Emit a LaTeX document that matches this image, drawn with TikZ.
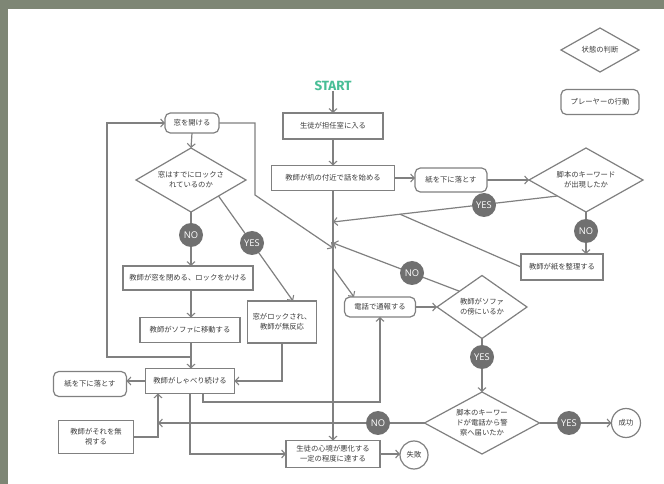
\documentclass[tikz,border=0pt]{standalone}
\usepackage{fontspec}
\setmainfont{Noto Sans CJK JP}
\newfontfamily\latinfont{Open Sans}
\newfontfamily\startfont{Fira Sans}
\usetikzlibrary{shapes.geometric,arrows.meta,calc}
\pgfdeclarelayer{bg}
\pgfsetlayers{bg,main}
\definecolor{bordercol}{RGB}{126,134,117}
\definecolor{linecol}{RGB}{128,128,128}
\definecolor{txtcol}{RGB}{60,60,60}
\definecolor{circcol}{RGB}{112,112,112}
\definecolor{startcol}{RGB}{72,190,150}
\begin{document}
\begin{tikzpicture}[x=0.75pt,y=-0.75pt,
  every node/.style={inner sep=0pt, outer sep=0pt, text=txtcol, align=center,
    font=\fontsize{5.5pt}{7.5pt}\selectfont},
  conn/.style={draw=linecol, line width=0.9pt},
  arr/.style={conn, -{Straight Barb[length=2.8pt,width=6pt,line width=0.8pt]}},
  rectbox/.style={draw=linecol, line width=0.9pt, fill=white, rectangle},
  roundbox/.style={draw=linecol, line width=0.9pt, fill=white, rectangle, rounded corners=4pt},
  decide/.style={draw=linecol, line width=0.9pt, fill=white, diamond},
  answer/.style={circle, fill=circcol, minimum size=18pt, text=white,
    font=\latinfont\fontsize{7pt}{8pt}\selectfont},
  terminal/.style={circle, draw=linecol, line width=0.9pt, fill=white}
]
\begin{pgfonlayer}{bg}
  \fill[bordercol] (0,0) rectangle (664,484);
  \fill[white] (8,9) rectangle (664,484);
\end{pgfonlayer}
\useasboundingbox (0,0) rectangle (664,484);

% legend
\node[decide, minimum width=58.5pt, minimum height=33pt] (lgd) at (600,50) {};
\node (lgdt) at (lgd) {状態の判断};
\node[roundbox, minimum width=58.5pt, minimum height=18.75pt] (lgb) at (600,102) {プレーヤーの行動};

% start column
\node[text=startcol, font=\startfont\bfseries\fontsize{10pt}{12pt}\selectfont] (start) at (333,86) {START};
\node[rectbox, minimum width=75pt, minimum height=19.5pt] (b1) at (333,126) {生徒が担任室に入る};
\node[rectbox, minimum width=92.25pt, minimum height=18.75pt] (b2) at (333,178) {教師が机の付近で話を始める};
\node[roundbox, minimum width=54pt, minimum height=18pt] (r1) at (451,180) {紙を下に落とす};
\node[decide, minimum width=85.5pt, minimum height=48pt] (d1) at (586,180) {};
\node (d1t) at (d1) {脚本のキーワード\\が出現したか};
\node[rectbox, minimum width=61.5pt, minimum height=19.5pt] (b3) at (562,267) {教師が紙を整理する};

% left column
\node[roundbox, minimum width=40.5pt, minimum height=15pt] (r2) at (192,123) {窓を開ける};
\node[decide, minimum width=82.5pt, minimum height=48pt] (d2) at (191,180) {};
\node (d2t) at (d2) {窓はすでにロックさ\\れているのか};
\node[rectbox, minimum width=97.5pt, minimum height=18pt] (b4) at (188,278) {教師が窓を閉める、ロックをかける};
\node[rectbox, minimum width=75pt, minimum height=18.75pt] (b5) at (190,330) {教師がソファに移動する};
\node[rectbox, minimum width=51.75pt, minimum height=31.5pt] (b6) at (282,322) {窓がロックされ、\\教師が無反応};
\node[rectbox, minimum width=66.75pt, minimum height=18.75pt] (b9) at (190,381) {教師がしゃべり続ける};
\node[roundbox, minimum width=54.75pt, minimum height=18.75pt] (r3) at (90,384) {紙を下に落とす};
\node[rectbox, minimum width=56.25pt, minimum height=24.75pt] (b10) at (96,437) {教師がそれを無\\視する};

% middle / bottom
\node[roundbox, minimum width=53.25pt, minimum height=15pt] (b7) at (380,307) {電話で通報する};
\node[decide, minimum width=67.5pt, minimum height=47.25pt] (d3) at (482,307) {};
\node (d3t) at (d3) {教師がソファ\\の傍にいるか};
\node[decide, minimum width=86.25pt, minimum height=46.5pt] (d4) at (482,423) {};
\node (d4t) at (d4) {脚本のキーワー\\ドが電話から警\\察へ届いたか};
\node[terminal, minimum size=21.75pt] (succ) at (626,423) {成功};
\node[rectbox, minimum width=70.5pt, minimum height=20.25pt] (b8) at (333,454) {生徒の心境が悪化する\\一定の程度に達する};
\node[terminal, minimum size=21pt] (fail) at (414,455) {失敗};

% answer circles
\node[answer] (yes1) at (484,205) {YES};
\node[answer] (no1) at (586,231) {NO};
\node[answer] (no2) at (191,235) {NO};
\node[answer] (yes2) at (252,243) {YES};
\node[answer] (no3) at (412,273) {NO};
\node[answer] (yes3) at (482,357) {YES};
\node[answer] (yes4) at (569,423) {YES};
\node[answer] (no4) at (378,423) {NO};

% junction coordinates
\coordinate (m1) at (333,222);
\coordinate (m2) at (333,243);
\coordinate (m3) at (333,248);
\coordinate (m4) at (333,268);
\coordinate (j4) at (158,423);
\coordinate (j6) at (107,357);
\coordinate (j7) at (255,195);
\coordinate (j8) at (400,214.2);
\coordinate (j9) at (191,357);

\begin{pgfonlayer}{bg}
  \draw[arr] (start.south) -- (b1.north);
  \draw[arr] (b1.south) -- (b2.north);
  \draw[conn] (b2.south) -- (b8.north);
  \draw[arr] (m4) -- (b8.north);
  \draw[arr] (b2.east) -- (b2.east -| r1.west);
  \draw[arr] (r1.east) -- (d1.west);
  \draw[arr] (d1.south west) -- (m1);
  \draw[arr] (d1.south) -- (d1.south |- b3.north);
  \draw[conn] (b3.west) -- (j8);
  \draw[arr] (d3.north west) -- (m2);
  \draw[arr] (r2.east) -| (j7) -- (m3);
  \draw[arr] (m4) -- ($(b7.north)+(-26,0)$);
  \draw[arr] (b7.east) -- (d3.west);
  \draw[arr] (d3.south) -- (d4.north);
  \draw[arr] (d4.east) -- (succ.west);
  \draw[arr] (d4.west) -- (j4);
  \draw[arr] (b8.east) -- (b8.east -| fail.west);
  % left column
  \draw[arr] (r2.south) -- (d2.north);
  \draw[arr] (d2.south) -- (d2.south |- b4.north);
  \draw[arr] (b4.south -| d2.south) -- (b5.north -| d2.south);
  \draw[arr] (b5.south -| d2.south) -- (b9.north -| d2.south);
  \draw[arr] (j9) -- (j6) |- (r2.west);
  \draw[arr] (d2.south east) -- ($(b6.north)+(11,0)$);
  \draw[arr] (b6.south) |- (b9.east);
  \draw[arr] (b9.west) -- (b9.west -| r3.east);
  \draw[arr] (b10.east) -| (b9.south -| j4);
  \draw[arr] (b9.south) |- (b8.west);
  \draw[arr] ($(b9.south)+(13,0)$) |- ($(b7.south)+(0,85)$) -- (b7.south);
\end{pgfonlayer}
\end{tikzpicture}
\end{document}
